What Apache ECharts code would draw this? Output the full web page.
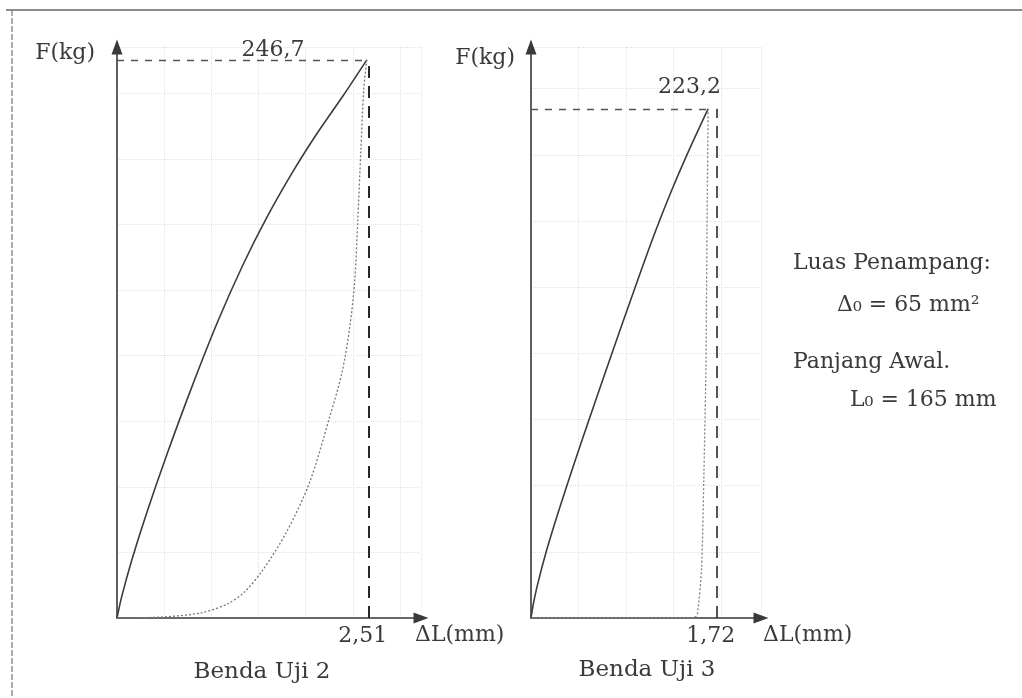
<!DOCTYPE html>
<html>
<head>
<meta charset="utf-8">
<title>Benda Uji 2 dan 3</title>
<script src="https://cdn.jsdelivr.net/npm/echarts@6/dist/echarts.min.js"></script>
<style>
	html, body { margin: 0; padding: 0; background: #fff; }
	#chart { width: 1022px; height: 698px; }
</style>
</head>
<body>
<div id="chart"></div>
<script>
// Benda Uji 2 : kurva naik (garis) dan kurva titik-titik
const dL2 = [0, 0.05, 0.15, 0.30, 0.50, 0.75, 1.00, 1.25, 1.50, 1.75, 2.00, 2.25, 2.49]
const F2 = [0, 10, 26, 47, 72.6, 102.6, 130.6, 155.6, 177.6, 197.1, 214.6, 230.6, 246.7]
const dL2b = [0, 0.43, 0.83, 1.10, 1.27, 1.45, 1.69, 1.92, 2.12, 2.24, 2.32, 2.37, 2.40, 2.43, 2.46, 2.49]
const F2b = [0, 0.4, 2.2, 6.2, 11.5, 21, 38, 60, 88.9, 108, 128.6, 149.4, 176, 206, 234, 246.7]
const F2_MAX = 246.7
const DL2_END = 2.51

// Benda Uji 3
const dL3 = [0, 0.02, 0.06, 0.14, 0.25, 0.40, 0.55, 0.70, 0.85, 1.00, 1.15, 1.30, 1.45, 1.64]
const F3 = [0, 5.7, 14.5, 28.9, 46, 67.7, 88.7, 109.3, 129.6, 149.7, 169.2, 187.2, 203.7, 223.2]
const dL3b = [0, 1.50, 1.54, 1.58, 1.60, 1.62, 1.63, 1.64]
const F3b = [0, 0, 1.5, 22, 60, 110, 170, 223.2]
const F3_MAX = 223.2
const DL3_END = 1.72

const FONT = 'DejaVu Serif'
const INK = '#3a3a3a'

const koma = v => String(v).replace('.', ',')
const pairs = (xs, ys) => xs.map((x, i) => [x, ys[i]])

function xAxisOf(idx, max, interval, gap) {
	return {
		type: 'value', gridIndex: idx, min: 0, max: max, interval: interval,
		name: 'ΔL(mm)', nameLocation: 'end', nameGap: gap,
		nameTextStyle: { fontFamily: FONT, fontSize: 22, color: INK, align: 'left', verticalAlign: 'top', padding: [6, 0, 0, 0] },
		axisLine: { lineStyle: { color: INK, width: 1.6 }, symbol: ['none', 'triangle'], symbolSize: [11, 15] },
		axisTick: { show: false },
		axisLabel: { show: false },
		splitLine: { show: true, lineStyle: { color: '#e2e2e2', type: 'dotted' } }
	}
}

function yAxisOf(idx, max, gap, padRight) {
	return {
		type: 'value', gridIndex: idx, min: 0, max: max, interval: 29,
		name: 'F(kg)', nameLocation: 'end', nameGap: gap,
		nameTextStyle: { fontFamily: FONT, fontSize: 22, color: INK, align: 'right', verticalAlign: 'middle', padding: [0, padRight, 0, 0] },
		axisLine: { lineStyle: { color: INK, width: 1.6 }, symbol: ['none', 'triangle'], symbolSize: [11, 15] },
		axisTick: { show: false },
		axisLabel: { show: false },
		splitLine: { show: true, lineStyle: { color: '#e2e2e2', type: 'dotted' } }
	}
}

function peakLines(fMax, xPeak, xEnd, topOffset, vWidth) {
	return {
		silent: true,
		symbol: ['none', 'none'],
		animation: false,
		data: [
			[{
				coord: [0, fMax],
				lineStyle: { type: [7, 7], color: '#555', width: 1.3 },
				label: { show: true, position: 'middle', formatter: koma(fMax), fontFamily: FONT, fontSize: 22, color: INK, offset: topOffset }
			}, { coord: [xPeak, fMax] }],
			[{
				coord: [xEnd, 0],
				lineStyle: { type: [12, 8], color: '#2a2a2a', width: vWidth },
				label: { show: true, position: 'start', formatter: koma(xEnd), fontFamily: FONT, fontSize: 22, color: INK, offset: [-6, 2] }
			}, { coord: [xEnd, fMax] }]
		]
	}
}

const chart = echarts.init(document.getElementById('chart'))

chart.setOption({
	backgroundColor: '#fff',
	animation: false,
	grid: [
		{ left: 117, top: 47, width: 304, height: 571 },
		{ left: 531, top: 47, width: 230, height: 571 }
	],
	xAxis: [
		xAxisOf(0, 3.03, 0.47, -6),
		xAxisOf(1, 2.13, 0.44, 2)
	],
	yAxis: [
		yAxisOf(0, 252.4, -6, 22),
		yAxisOf(1, 250.3, -11, 16)
	],
	series: [
		{
			type: 'line', xAxisIndex: 0, yAxisIndex: 0,
			data: pairs(dL2, F2), showSymbol: false, smooth: 0.3,
			lineStyle: { color: '#3c3c3c', width: 1.6 },
			markLine: peakLines(F2_MAX, dL2[dL2.length - 1], DL2_END, [31, 6], 2)
		},
		{
			type: 'line', xAxisIndex: 0, yAxisIndex: 0,
			data: pairs(dL2b, F2b), showSymbol: false, smooth: 0.3,
			lineStyle: { color: '#777', width: 1.3, type: [2, 2] }
		},
		{
			type: 'line', xAxisIndex: 1, yAxisIndex: 1,
			data: pairs(dL3, F3), showSymbol: false, smooth: 0.3,
			lineStyle: { color: '#3c3c3c', width: 1.6 },
			markLine: peakLines(F3_MAX, dL3[dL3.length - 1], DL3_END, [70, -6], 1.6)
		},
		{
			type: 'line', xAxisIndex: 1, yAxisIndex: 1,
			data: pairs(dL3b, F3b), showSymbol: false, smooth: 0.2,
			lineStyle: { color: '#808080', width: 1.3, type: [2, 2] }
		}
	],
	graphic: [
		// bingkai hasil scan
		{ type: 'line', shape: { x1: 6, y1: 10, x2: 1022, y2: 10 }, style: { stroke: '#666', lineWidth: 1.5 } },
		{ type: 'line', shape: { x1: 12, y1: 10, x2: 12, y2: 698 }, style: { stroke: '#777', lineWidth: 1.2, lineDash: [6, 2] } },
		{ type: 'text', style: { text: 'Benda Uji 2', x: 262, y: 672, textAlign: 'center', textVerticalAlign: 'middle', font: '23px "DejaVu Serif"', fill: INK } },
		{ type: 'text', style: { text: 'Benda Uji 3', x: 647, y: 670, textAlign: 'center', textVerticalAlign: 'middle', font: '23px "DejaVu Serif"', fill: INK } },
		{ type: 'text', style: { text: 'Luas Penampang:', x: 793, y: 263, textAlign: 'left', textVerticalAlign: 'middle', font: '22px "DejaVu Serif"', fill: INK } },
		{ type: 'text', style: { text: 'Δ₀ = 65 mm²', x: 837, y: 305, textAlign: 'left', textVerticalAlign: 'middle', font: '22px "DejaVu Serif"', fill: INK } },
		{ type: 'text', style: { text: 'Panjang Awal.', x: 793, y: 362, textAlign: 'left', textVerticalAlign: 'middle', font: '22px "DejaVu Serif"', fill: INK } },
		{ type: 'text', style: { text: 'L₀ = 165 mm', x: 850, y: 400, textAlign: 'left', textVerticalAlign: 'middle', font: '22px "DejaVu Serif"', fill: INK } }
	]
})
</script>
</body>
</html>
